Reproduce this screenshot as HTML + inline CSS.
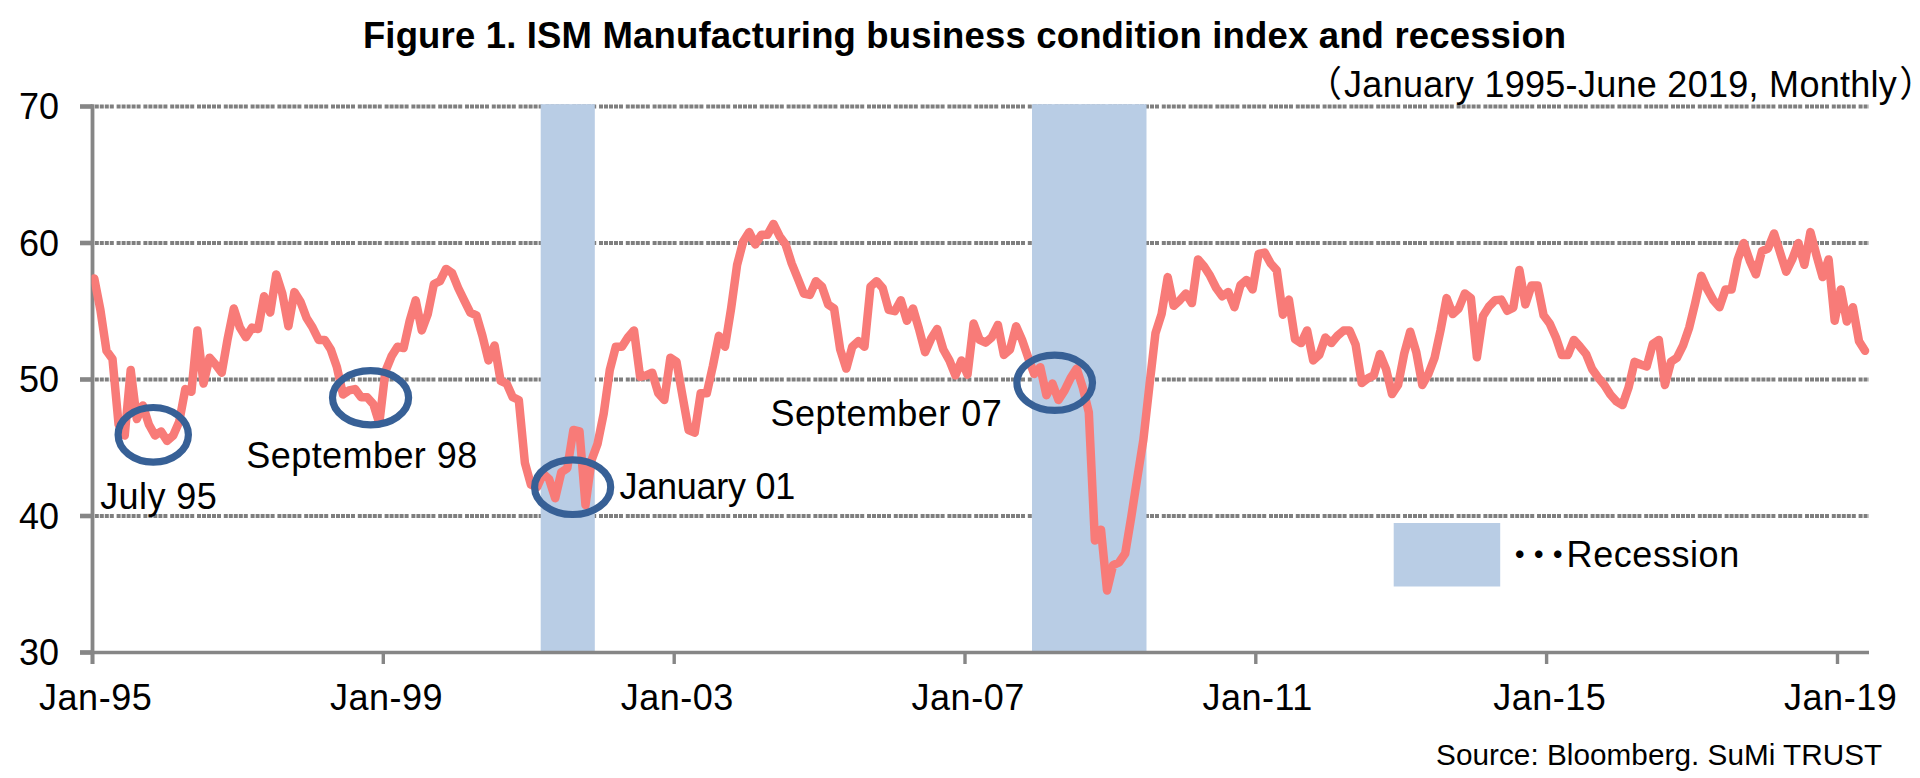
<!DOCTYPE html>
<html><head><meta charset="utf-8"><title>Figure 1. ISM Manufacturing business condition index and recession</title>
<style>
html,body{margin:0;padding:0;background:#fff;}
svg{display:block;}
text{font-family:"Liberation Sans", "Noto Sans CJK JP", sans-serif;fill:#000;}
</style></head>
<body>
<svg width="1920" height="778" viewBox="0 0 1920 778">
<rect width="1920" height="778" fill="#fff"/>
<defs><clipPath id="plot"><rect x="91.5" y="100" width="1790" height="556"/></clipPath></defs>
<g id="grid">
<line x1="94" y1="106.5" x2="1869" y2="106.5" stroke="#7f7f7f" stroke-width="3.9" stroke-dasharray="4 1 4 1 4 1 4 1 4 2.8" stroke-dashoffset="4.2"/>
<line x1="94" y1="243" x2="1869" y2="243" stroke="#7f7f7f" stroke-width="3.9" stroke-dasharray="4 1 4 1 4 1 4 1 4 2.8" stroke-dashoffset="4.2"/>
<line x1="94" y1="379.5" x2="1869" y2="379.5" stroke="#7f7f7f" stroke-width="3.9" stroke-dasharray="4 1 4 1 4 1 4 1 4 2.8" stroke-dashoffset="4.2"/>
<line x1="94" y1="516" x2="1869" y2="516" stroke="#7f7f7f" stroke-width="3.9" stroke-dasharray="4 1 4 1 4 1 4 1 4 2.8" stroke-dashoffset="4.2"/>
</g>
<g id="bands" fill="#b9cde5">
<rect x="540.7" y="104.2" width="54.1" height="548.3"/>
<rect x="1032" y="104.2" width="114.5" height="548.3"/>
<rect x="1393.7" y="523" width="106.5" height="63.5"/>
</g>
<g id="axes">
<line x1="92.5" y1="104.2" x2="92.5" y2="664" stroke="#868686" stroke-width="3.8"/>
<line x1="80" y1="652.5" x2="1869" y2="652.5" stroke="#868686" stroke-width="3.4"/>
<line x1="80" y1="106.5" x2="92.5" y2="106.5" stroke="#868686" stroke-width="4.6"/>
<line x1="80" y1="243" x2="92.5" y2="243" stroke="#868686" stroke-width="4.6"/>
<line x1="80" y1="379.5" x2="92.5" y2="379.5" stroke="#868686" stroke-width="4.6"/>
<line x1="80" y1="516" x2="92.5" y2="516" stroke="#868686" stroke-width="4.6"/>
<line x1="80" y1="652.5" x2="92.5" y2="652.5" stroke="#868686" stroke-width="4.6"/>
<line x1="92.5" y1="652.5" x2="92.5" y2="664" stroke="#868686" stroke-width="3.4"/>
<line x1="383.3" y1="652.5" x2="383.3" y2="664" stroke="#868686" stroke-width="3.4"/>
<line x1="674.2" y1="652.5" x2="674.2" y2="664" stroke="#868686" stroke-width="3.4"/>
<line x1="965.0" y1="652.5" x2="965.0" y2="664" stroke="#868686" stroke-width="3.4"/>
<line x1="1255.8" y1="652.5" x2="1255.8" y2="664" stroke="#868686" stroke-width="3.4"/>
<line x1="1546.6" y1="652.5" x2="1546.6" y2="664" stroke="#868686" stroke-width="3.4"/>
<line x1="1837.5" y1="652.5" x2="1837.5" y2="664" stroke="#868686" stroke-width="3.4"/>
</g>
<polyline id="ism" fill="none" stroke="#f87b78" stroke-width="8.5" clip-path="url(#plot)" stroke-linejoin="round" stroke-linecap="round" points="94.3,278.5 100.4,309.9 106.5,350.8 112.5,359.0 118.6,424.5 124.7,435.5 130.7,369.9 136.8,419.1 142.8,405.4 148.9,424.5 155.0,435.5 161.0,431.4 167.1,440.9 173.2,435.5 179.2,421.8 185.3,389.1 191.4,391.8 197.4,330.4 203.5,383.6 209.5,357.7 215.6,364.5 221.7,372.7 227.7,338.6 233.8,308.5 239.9,327.6 245.9,337.2 252.0,327.6 258.1,329.0 264.1,296.2 270.2,312.6 276.2,274.4 282.3,293.5 288.4,326.3 294.4,292.1 300.5,301.7 306.6,318.1 312.6,327.6 318.7,339.9 324.8,339.9 330.8,349.5 336.9,367.2 343.0,394.5 349.0,390.4 355.1,389.1 361.1,397.2 367.2,397.2 373.3,404.1 379.3,423.2 385.4,371.3 391.5,356.3 397.5,346.7 403.6,348.1 409.7,320.8 415.7,300.3 421.8,330.4 427.8,314.0 433.9,284.0 440.0,281.2 446.0,268.9 452.1,273.0 458.2,288.0 464.2,300.3 470.3,312.6 476.4,315.3 482.4,335.8 488.5,360.4 494.6,345.4 500.6,380.9 506.7,383.6 512.7,397.2 518.8,400.0 524.9,462.8 530.9,484.6 537.0,487.3 543.1,473.7 549.1,479.1 555.2,498.3 561.3,472.3 567.3,468.2 573.4,430.0 579.5,431.4 585.5,505.1 591.6,460.0 597.6,443.7 603.7,413.6 609.8,369.9 615.8,346.7 621.9,346.7 628.0,337.2 634.0,330.4 640.1,376.8 646.2,375.4 652.2,372.7 658.3,393.2 664.3,400.0 670.4,357.7 676.5,361.8 682.5,395.9 688.6,430.0 694.7,432.7 700.7,393.2 706.8,393.2 712.9,365.9 718.9,335.8 725.0,346.7 731.1,308.5 737.1,264.8 743.2,241.6 749.2,232.1 755.3,244.4 761.4,234.8 767.4,234.8 773.5,223.9 779.6,236.2 785.6,244.4 791.7,263.5 797.8,278.5 803.8,293.5 809.9,294.9 815.9,281.2 822.0,286.7 828.1,304.4 834.1,308.5 840.2,349.5 846.3,368.6 852.3,346.7 858.4,341.3 864.5,346.7 870.5,286.7 876.6,281.2 882.7,288.0 888.7,309.9 894.8,311.2 900.8,300.3 906.9,320.8 913.0,308.5 919.0,329.0 925.1,352.2 931.2,338.6 937.2,329.0 943.3,349.5 949.4,360.4 955.4,375.4 961.5,360.4 967.5,374.7 973.6,323.5 979.7,339.9 985.7,342.6 991.8,337.2 997.9,324.9 1003.9,354.9 1010.0,349.5 1016.1,326.3 1022.1,339.9 1028.2,357.7 1034.2,374.0 1040.3,367.2 1046.4,395.2 1052.4,383.6 1058.5,400.0 1064.6,390.4 1070.6,378.1 1076.7,368.6 1082.8,387.7 1088.8,412.3 1094.9,540.6 1101.0,529.7 1107.0,590.4 1113.1,565.1 1119.1,562.4 1125.2,553.5 1131.3,516.7 1137.3,477.8 1143.4,439.6 1149.5,385.0 1155.5,333.1 1161.6,314.0 1167.7,277.1 1173.7,305.8 1179.8,300.3 1185.8,293.5 1191.9,303.1 1198.0,259.4 1204.0,266.2 1210.1,275.8 1216.2,288.0 1222.2,296.2 1228.3,292.1 1234.4,307.2 1240.4,285.3 1246.5,279.9 1252.6,289.4 1258.6,253.9 1264.7,252.6 1270.7,263.5 1276.8,270.3 1282.9,314.7 1288.9,299.6 1295.0,339.2 1301.1,343.1 1307.1,330.4 1313.2,360.4 1319.3,354.9 1325.3,337.6 1331.4,343.1 1337.5,335.8 1343.5,330.6 1349.6,330.6 1355.6,344.7 1361.7,383.0 1367.8,378.4 1373.8,375.4 1379.9,354.1 1386.0,369.0 1392.0,394.1 1398.1,385.0 1404.2,353.6 1410.2,331.7 1416.3,352.2 1422.3,385.0 1428.4,374.0 1434.5,358.1 1440.5,330.4 1446.6,298.1 1452.7,314.0 1458.7,308.5 1464.8,293.5 1470.9,298.1 1476.9,357.3 1483.0,316.0 1489.0,306.5 1495.1,300.3 1501.2,299.6 1507.2,310.7 1513.3,307.6 1519.4,269.9 1525.4,304.4 1531.5,285.6 1537.6,285.6 1543.6,315.3 1549.7,323.5 1555.8,337.2 1561.8,354.9 1567.9,354.9 1573.9,339.9 1580.0,346.7 1586.1,354.1 1592.1,369.0 1598.2,377.6 1604.3,385.0 1610.3,394.5 1616.4,401.3 1622.5,405.0 1628.5,387.7 1634.6,361.8 1640.6,364.5 1646.7,366.4 1652.8,344.0 1658.8,339.9 1664.9,385.0 1671.0,361.8 1677.0,357.7 1683.1,345.4 1689.2,327.6 1695.2,303.1 1701.3,275.8 1707.4,289.4 1713.4,300.3 1719.5,307.2 1725.5,289.4 1731.6,289.4 1737.7,259.4 1743.7,243.0 1749.8,260.7 1755.9,274.4 1761.9,251.2 1768.0,248.5 1774.1,233.4 1780.1,252.6 1786.2,271.7 1792.2,259.4 1798.3,243.0 1804.4,264.8 1810.4,232.1 1816.5,255.3 1822.6,277.1 1828.6,259.4 1834.7,320.8 1840.8,289.4 1846.8,321.5 1852.9,307.2 1859.0,341.3 1865.0,350.8"/>
<g id="ellipses" fill="none" stroke="#376096" stroke-width="7.2">
<ellipse cx="153.25" cy="434.85" rx="35.15" ry="27.35"/>
<ellipse cx="370.55" cy="397.8" rx="38.05" ry="27.1"/>
<ellipse cx="572.65" cy="487.2" rx="38.05" ry="27.3"/>
<ellipse cx="1054.7" cy="382.8" rx="37.8" ry="27.6"/>
</g>
<g id="labels" font-size="36">
<text x="362.9" y="47.5" font-size="36.5" font-weight="bold" letter-spacing="0.165">Figure 1. ISM Manufacturing business condition index and recession</text>
<text y="97.4"><tspan x="1306.0">（</tspan><tspan x="1344.1" letter-spacing="0.28">January 1995-June 2019, Monthly</tspan><tspan x="1899.2">）</tspan></text>
<text x="59" y="119.4" text-anchor="end">70</text>
<text x="59" y="255.9" text-anchor="end">60</text>
<text x="59" y="392.4" text-anchor="end">50</text>
<text x="59" y="528.9" text-anchor="end">40</text>
<text x="59" y="665.4" text-anchor="end">30</text>
<text x="39.1" y="709.6" letter-spacing="0.5">Jan-95</text>
<text x="329.9" y="709.6" letter-spacing="0.5">Jan-99</text>
<text x="620.8" y="709.6" letter-spacing="0.5">Jan-03</text>
<text x="911.6" y="709.6" letter-spacing="0.5">Jan-07</text>
<text x="1202.4" y="709.6" letter-spacing="0.5">Jan-11</text>
<text x="1493.2" y="709.6" letter-spacing="0.5">Jan-15</text>
<text x="1784.1" y="709.6" letter-spacing="0.5">Jan-19</text>
<text x="100.2" y="509.3" letter-spacing="0.4">July 95</text>
<text x="246.3" y="467.5" letter-spacing="0.432">September 98</text>
<text x="619.4" y="499.3" letter-spacing="-0.242">January 01</text>
<text x="770.6" y="425.6" letter-spacing="0.447">September 07</text>
<text y="567.3"><tspan x="1508.4 1527.5 1546.6" y="571.9" font-size="45">･･･</tspan><tspan x="1566.6" y="567.3" letter-spacing="0.562">Recession</tspan></text>
<text x="1436.1" y="765.4" font-size="29.7" letter-spacing="0.043">Source: Bloomberg. SuMi TRUST</text>
</g>
</svg>
</body></html>
